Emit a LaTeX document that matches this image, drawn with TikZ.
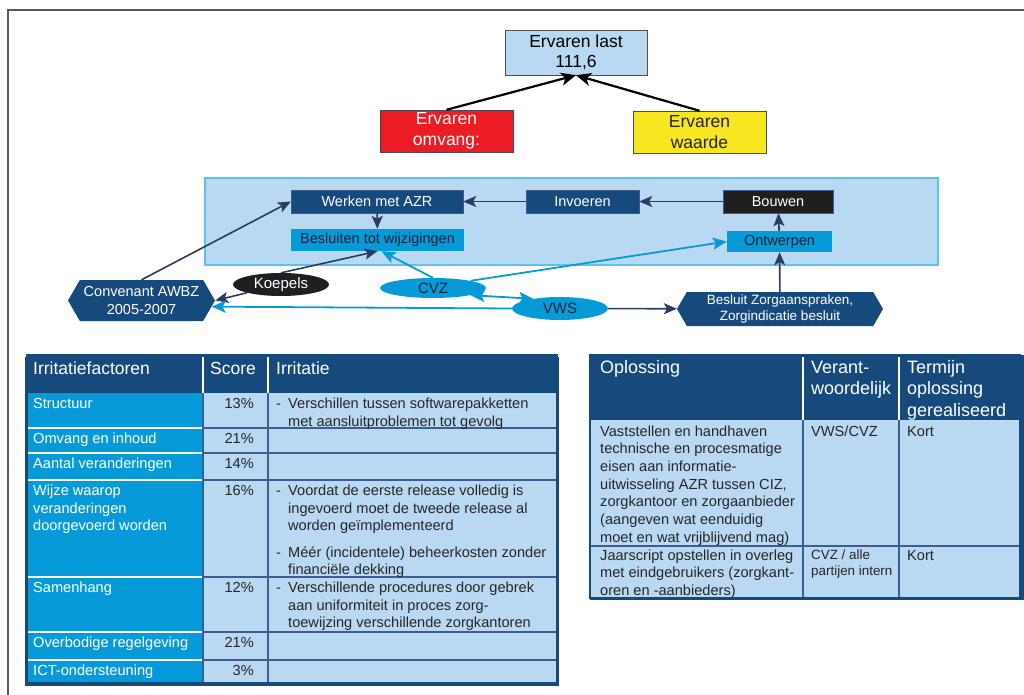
\documentclass[tikz,border=0pt]{standalone}
\usepackage{fontspec}
\setmainfont{Liberation Sans}
\usetikzlibrary{shapes.geometric,shapes.symbols,arrows.meta}

\definecolor{azrdark}{HTML}{174A7C}
\definecolor{azrcyan}{HTML}{069BD8}
\definecolor{azrlight}{HTML}{B8D9F1}
\definecolor{azrpanel}{HTML}{5BC4EC}
\definecolor{azrarrow}{HTML}{2B3C63}
\definecolor{azrline}{HTML}{3D5C8F}
\definecolor{azrred}{HTML}{ED1C24}
\definecolor{azryellow}{HTML}{F8E620}
\definecolor{azrtext}{HTML}{1E2238}

\newcommand\irrdash[1]{\begin{tabular}[t]{@{}p{12pt}@{}l@{}}-&#1\end{tabular}}
\newcommand\celllines[1]{\begin{tabular}[t]{@{}l@{}}#1\end{tabular}}

\begin{document}
\begin{tikzpicture}[x=1pt,y=-1pt,
  box/.style={rectangle,inner sep=0pt,align=center,font=\fontsize{14.5}{17}\selectfont},
  darkbox/.style={box,fill=azrdark,draw=azrline,text=white},
  cyanbox/.style={box,fill=azrcyan,text=azrtext},
  topbox/.style={rectangle,inner sep=0pt,align=center,minimum width=133pt,minimum height=42pt,
    draw=black!70,font=\fontsize{17.5}{20.5}\selectfont},
  hexbox/.style={signal,signal to=west and east,signal pointer angle=120,fill=azrdark,
    text=white,inner sep=0pt,align=center},
  blob/.style={ellipse,inner sep=0pt,font=\fontsize{15}{17}\selectfont},
  darkarrow/.style={azrarrow,line width=1.6pt,-{Stealth[length=13pt,width=11pt,inset=3pt]}},
  cyanarrow/.style={azrcyan,line width=1.8pt,-{Stealth[length=14pt,width=12pt,inset=3pt]}},
  headtext/.style={anchor=base west,inner sep=0pt,text=white,
    font=\fontsize{17.5}{21}\selectfont},
  celltext/.style={anchor=base west,inner sep=0pt,text=black!85,
    font=\fontsize{14.6}{17.7}\selectfont},
  scoretext/.style={celltext,anchor=base east},
  factortext/.style={celltext,text=white},
]
  \useasboundingbox (0,0) rectangle (1024,695);
  \draw[black!65,line width=1.5pt] (8,695) -- (8,10) -- (1024,10);

  % ervaren last
  \node[topbox,fill=azrlight,minimum width=142pt,minimum height=45pt] (last) at (576,52.5) {Ervaren last\\111,6};
  \node[topbox,fill=azrred,text=white] (omvang) at (446.5,131) {Ervaren\\omvang:};
  \node[topbox,fill=azryellow,text=black!85] (waarde) at (699.5,132) {Ervaren\\waarde};
  \draw[black,line width=2.2pt,-{Stealth[length=15pt,width=13pt,inset=4pt]}] (omvang.north) -- (last.south);
  \draw[black,line width=2.2pt,-{Stealth[length=15pt,width=13pt,inset=4pt]}] (waarde.north) -- (last.south);

  % proces
  \filldraw[fill=azrlight,draw=azrpanel,line width=1.2pt] (205,178) rectangle (938,265);
  \node[darkbox,minimum width=172pt,minimum height=23pt] (werken) at (377,201.5) {Werken met AZR};
  \node[cyanbox,minimum width=173pt,minimum height=22pt] (besluiten) at (377.5,240) {Besluiten tot wijzigingen};
  \node[darkbox,minimum width=113pt,minimum height=23pt] (invoeren) at (582.5,201.5) {Invoeren};
  \node[darkbox,fill=black!88,minimum width=110pt,minimum height=23pt] (bouwen) at (778,201.5) {Bouwen};
  \node[cyanbox,minimum width=105pt,minimum height=21pt] (ontwerpen) at (779.5,241.5) {Ontwerpen};

  \node[hexbox,minimum width=147pt,minimum height=41pt,font=\fontsize{14.5}{17.5}\selectfont] (convenant) at (141.5,300.5) {Convenant AWBZ\\2005-2007};
  \node[blob,fill=black!88,text=white,minimum width=96pt,minimum height=23pt] (koepels) at (281,284.5) {Koepels};
  \node[blob,fill=azrcyan,text=azrtext,minimum width=106pt,minimum height=20pt] (cvz) at (433,288) {CVZ};
  \node[blob,fill=azrcyan,text=azrtext,minimum width=96pt,minimum height=23pt] (vws) at (560,308.5) {VWS};
  \node[hexbox,minimum width=206pt,minimum height=34pt,font=\fontsize{13.5}{16}\selectfont] (besluit) at (780,309) {Besluit Zorgaanspraken,\\Zorgindicatie besluit};

  \draw[darkarrow] (invoeren) -- (werken);
  \draw[darkarrow] (bouwen) -- (invoeren);
  \draw[darkarrow] (werken) -- (besluiten);
  \draw[darkarrow] (ontwerpen) -- (bouwen);
  \draw[darkarrow] (besluit) -- (ontwerpen);
  \draw[darkarrow] (vws) -- (besluit);
  \draw[darkarrow] (convenant.north) -- (werken.west);
  \draw[darkarrow] (koepels.south west) -- (convenant.east);
  \draw[darkarrow] (koepels.north) -- (besluiten.south);
  \draw[cyanarrow] (cvz.north) -- ([xshift=4pt]besluiten.south);
  \draw[cyanarrow] (cvz.north east) -- (ontwerpen.west);
  \draw[cyanarrow,{Stealth[length=14pt,width=12pt,inset=3pt]}-{Stealth[length=14pt,width=12pt,inset=3pt]}] (cvz.south east) -- (vws.160);
  \draw[cyanarrow] (vws.west) -- (convenant.-5);

  % tabel irritatiefactoren
  \fill[azrdark] (25,357) rectangle (559,686);
  \fill[azrdark] (27,355) rectangle (557,393);
  \fill[azrcyan] (27,393) rectangle (203,683);
  \fill[azrlight] (203,393) rectangle (557,683);
  \foreach \y in {428,453,480,577,632,660} {
    \draw[white,line width=1.5pt] (27,\y) -- (203,\y);
    \draw[azrline,line width=1.2pt] (203,\y) -- (557,\y);
  }
  \draw[white,line width=1.5pt] (203,357) -- (203,393) (268,357) -- (268,393);
  \draw[azrline,line width=1.2pt] (203,393) -- (203,683) (268,393) -- (268,683);
  \draw[azrdark,line width=1.5pt] (27,355) rectangle (557,683);

  \node[headtext] (hfactor) at (33,374) {Irritatiefactoren};
  \node[headtext] (hscore) at (210,374) {Score};
  \node[headtext] (hirr) at (276,374) {Irritatie};

  \node[factortext] (f1) at (33,408.5) {Structuur};
  \node[factortext] (f2) at (33,443.5) {Omvang en inhoud};
  \node[factortext] (f3) at (33,468.5) {Aantal veranderingen};
  \node[factortext] (f4) at (33,495.5) {\celllines{Wijze waarop\\veranderingen\\doorgevoerd worden}};
  \node[factortext] (f5) at (33,592.5) {Samenhang};
  \node[factortext] (f6) at (33,647) {Overbodige regelgeving};
  \node[factortext] (f7) at (33,675.5) {ICT-ondersteuning};

  \node[scoretext] (s1) at (254,408.5) {13\%};
  \node[scoretext] (s2) at (254,443.5) {21\%};
  \node[scoretext] (s3) at (254,468.5) {14\%};
  \node[scoretext] (s4) at (254,495.5) {16\%};
  \node[scoretext] (s5) at (254,592.5) {12\%};
  \node[scoretext] (s6) at (254,647) {21\%};
  \node[scoretext] (s7) at (254,675.5) {3\%};

  \node[celltext] (i1) at (276,408.5) {\irrdash{Verschillen tussen softwarepakketten\\&met aansluitproblemen tot gevolg}};
  \node[celltext] (i4a) at (276,495.5) {\irrdash{Voordat de eerste release volledig is\\&ingevoerd moet de tweede release al\\&worden geïmplementeerd}};
  \node[celltext] (i4b) at (276,557) {\irrdash{Méér (incidentele) beheerkosten zonder\\&financiële dekking}};
  \node[celltext] (i5) at (276,592.5) {\irrdash{Verschillende procedures door gebrek\\&aan uniformiteit in proces zorg-\\&toewijzing verschillende zorgkantoren}};

  % tabel oplossingen
  \fill[azrdark] (590,355) rectangle (1024,600);
  \fill[azrdark] (590,355) rectangle (1022,420);
  \fill[azrlight] (590,420) rectangle (1019,598);
  \draw[azrline,line width=1.2pt] (590,546) -- (1019,546);
  \draw[white,line width=1.5pt] (803,357) -- (803,420) (899,357) -- (899,420);
  \draw[azrline,line width=1.2pt] (803,420) -- (803,598) (899,420) -- (899,598);
  \draw[azrdark,line width=1.5pt] (590,355) rectangle (1020,598);

  \node[headtext,font=\fontsize{18}{21.5}\selectfont] (hopl) at (600,373) {Oplossing};
  \node[headtext,font=\fontsize{18}{21.5}\selectfont] (hverant) at (811,373) {\celllines{Verant-\\woordelijk}};
  \node[headtext,font=\fontsize{18}{21.5}\selectfont] (htermijn) at (907,373) {\celllines{Termijn\\oplossing\\gerealiseerd}};

  \node[celltext] (o1) at (600,436) {\celllines{Vaststellen en handhaven\\technische en procesmatige\\eisen aan informatie-\\uitwisseling AZR tussen CIZ,\\zorgkantoor en zorgaanbieder\\(aangeven wat eenduidig\\moet en wat vrijblijvend mag)}};
  \node[celltext] (v1) at (811,436) {VWS/CVZ};
  \node[celltext] (t1) at (907,436) {Kort};
  \node[celltext] (o2) at (600,560) {\celllines{Jaarscript opstellen in overleg\\met eindgebruikers (zorgkant-\\oren en -aanbieders)}};
  \node[celltext,font=\fontsize{13.4}{16}\selectfont] (v2) at (811,559) {\celllines{CVZ / alle\\partijen intern}};
  \node[celltext] (t2) at (907,560) {Kort};
\end{tikzpicture}
\end{document}
